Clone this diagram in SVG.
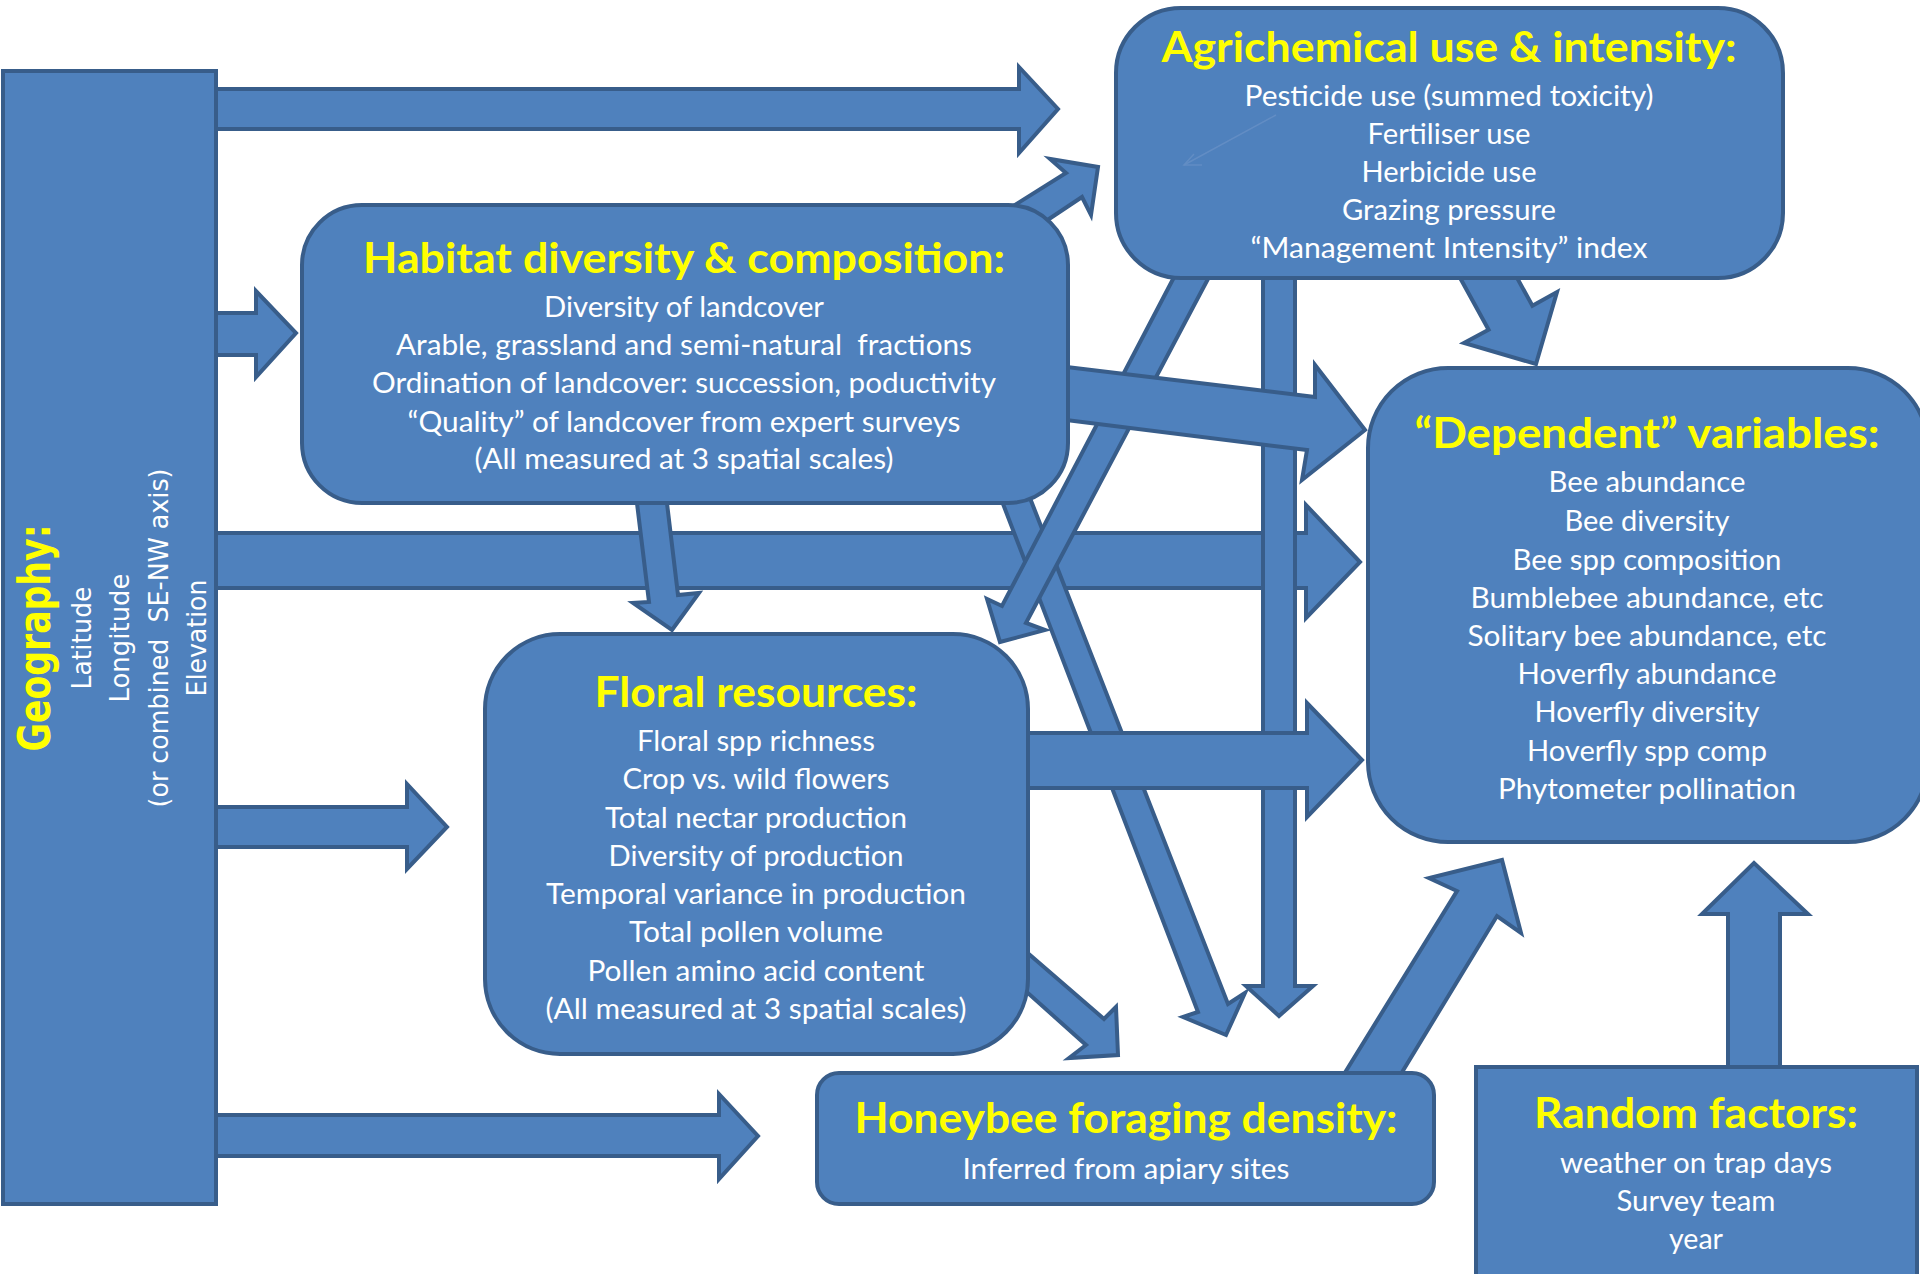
<svg xmlns="http://www.w3.org/2000/svg" width="1920" height="1274" viewBox="0 0 1920 1274">
  <style>
    .arr { fill: #4F81BD; stroke: #385D8A; stroke-width: 4; stroke-linejoin: miter; }
    .box { fill: #4F81BD; stroke: #385D8A; stroke-width: 4; }
    .ttl { font-family: Lato, "Open Sans", "Liberation Sans", sans-serif; font-weight: bold; font-size: 42px; fill: #FFFF00; text-anchor: middle; }
    .txt { font-family: Lato, "Open Sans", "Liberation Sans", sans-serif; font-size: 29px; fill: #FFFFFF; text-anchor: middle; }
    .gttl { font-family: "DejaVu Sans", Verdana, sans-serif; font-weight: bold; font-size: 44px; fill: #FFFF00; text-anchor: middle; }
    .gtxt { font-family: "DejaVu Sans", Verdana, sans-serif; font-size: 26px; fill: #FFFFFF; text-anchor: middle; }
  </style>
  <rect width="1920" height="1274" fill="#FFFFFF"/>

  <!-- block arrows, back to front -->
  <g id="connectors">
    <polygon id="geo-to-dependent" class="arr" points="212,533 1306,533 1306,505 1360,562 1306,618 1306,588 212,588"/>
    <polygon id="geo-to-agri" class="arr" points="212,89 1019,89 1019,67 1058,109 1019,153 1019,129 212,129"/>
    <polygon id="geo-to-habitat" class="arr" points="212,313 256,313 256,291 296,333 256,377 256,355 212,355"/>
    <polygon id="geo-to-floral" class="arr" points="212,807 407,807 407,784 447,827 407,869 407,847 212,847"/>
    <polygon id="geo-to-honeybee" class="arr" points="212,1115 719,1115 719,1094 758,1136 719,1179 719,1156 212,1156"/>
    <polygon id="habitat-to-floral" class="arr" points="636,495 649,602 633,603 672,630 699,593 678,595 666,495"/>
    <polygon id="habitat-to-honeybee" class="arr" points="990,470 1198,1012 1183,1017 1226,1035 1245,993 1228,1004 1019,470"/>
    <polygon id="agri-to-floral" class="arr" points="1183,260 1002,606 987,599 1000,642 1045,630 1026,623 1218,260"/>
    <polygon id="agri-to-honeybee" class="arr" points="1263,270 1263,986 1246,986 1279,1016 1313,986 1295,986 1295,270"/>
    <polygon id="habitat-to-dependent" class="arr" points="1050,365 1315,397 1315,365 1365,430 1302,480 1307,450 1050,418"/>
    <polygon id="floral-to-dependent" class="arr" points="1020,733 1307,733 1307,703 1362,760 1307,817 1307,788 1020,788"/>
    <polygon id="habitat-to-agri" class="arr" points="994,218 1066,173 1050,159 1098,167 1091,215 1082,197 1022,237"/>
    <polygon id="agri-to-dependent" class="arr" points="1453,265 1488.6,329.7 1464,343 1536,364 1557,292 1532.4,305.7 1510,265"/>
    <polygon id="floral-to-honeybee" class="arr" points="1000,929 1104,1019 1116,1007 1118,1055 1069,1058 1086,1045 1000,968"/>
    <polygon id="honeybee-to-dependent" class="arr" points="1333,1092 1457,891 1429,878 1502,860 1521,933 1497,916 1390,1092"/>
    <polygon id="random-to-dependent" class="arr" points="1728,1080 1728,914 1702,914 1754,863 1808,914 1780,914 1780,1080"/>
  </g>

  <g id="geography">
    <rect class="box" x="3" y="71" width="213" height="1133"/>
    <text class="gttl" transform="translate(50,638) rotate(-90)" textLength="227" lengthAdjust="spacingAndGlyphs">Geography:</text>
    <text class="gtxt" transform="translate(91,638) rotate(-90)" textLength="103" lengthAdjust="spacingAndGlyphs">Latitude</text>
    <text class="gtxt" transform="translate(129,638) rotate(-90)" textLength="129" lengthAdjust="spacingAndGlyphs">Longitude</text>
    <text class="gtxt" transform="translate(168,638) rotate(-90)" textLength="339" lengthAdjust="spacingAndGlyphs" xml:space="preserve">(or combined  SE-NW axis)</text>
    <text class="gtxt" transform="translate(206,638) rotate(-90)" textLength="117" lengthAdjust="spacingAndGlyphs">Elevation</text>
  </g>

  <g id="agrichemical">
    <rect class="box" x="1116" y="8" width="667" height="270" rx="65" ry="65"/>
    <!-- faint stray pointer inside the box -->
    <g fill="none" stroke="#6790C6" stroke-width="1.5" opacity="0.8">
      <line x1="1276" y1="115" x2="1184" y2="165"/>
      <polyline points="1202,165 1184,165 1194,154"/>
    </g>
    <text class="ttl" x="1449" y="62" textLength="575" lengthAdjust="spacingAndGlyphs">Agrichemical use &amp; intensity:</text>
    <text class="txt" x="1449" y="106" textLength="409" lengthAdjust="spacingAndGlyphs">Pesticide use (summed toxicity)</text>
    <text class="txt" x="1449" y="144" textLength="163" lengthAdjust="spacingAndGlyphs">Fertiliser use</text>
    <text class="txt" x="1449" y="182" textLength="175" lengthAdjust="spacingAndGlyphs">Herbicide use</text>
    <text class="txt" x="1449" y="220" textLength="214" lengthAdjust="spacingAndGlyphs">Grazing pressure</text>
    <text class="txt" x="1449" y="258" textLength="397" lengthAdjust="spacingAndGlyphs">“Management Intensity” index</text>
  </g>

  <g id="habitat">
    <rect class="box" x="302" y="205" width="766" height="298" rx="60" ry="60"/>
    <text class="ttl" x="684" y="273" textLength="642" lengthAdjust="spacingAndGlyphs">Habitat diversity &amp; composition:</text>
    <text class="txt" x="684" y="317" textLength="280" lengthAdjust="spacingAndGlyphs">Diversity of landcover</text>
    <text class="txt" x="684" y="355" textLength="576" lengthAdjust="spacingAndGlyphs" xml:space="preserve">Arable, grassland and semi-natural  fractions</text>
    <text class="txt" x="684" y="393" textLength="624" lengthAdjust="spacingAndGlyphs">Ordination of landcover: succession, poductivity</text>
    <text class="txt" x="684" y="432" textLength="553" lengthAdjust="spacingAndGlyphs">“Quality” of landcover from expert surveys</text>
    <text class="txt" x="684" y="469" textLength="419" lengthAdjust="spacingAndGlyphs">(All measured at 3 spatial scales)</text>
  </g>

  <g id="floral">
    <rect class="box" x="485" y="634" width="543" height="420" rx="75" ry="75"/>
    <text class="ttl" x="756" y="707" textLength="323" lengthAdjust="spacingAndGlyphs">Floral resources:</text>
    <text class="txt" x="756" y="751" textLength="238" lengthAdjust="spacingAndGlyphs">Floral spp richness</text>
    <text class="txt" x="756" y="789" textLength="267" lengthAdjust="spacingAndGlyphs">Crop vs. wild flowers</text>
    <text class="txt" x="756" y="828" textLength="302" lengthAdjust="spacingAndGlyphs">Total nectar production</text>
    <text class="txt" x="756" y="866" textLength="295" lengthAdjust="spacingAndGlyphs">Diversity of production</text>
    <text class="txt" x="756" y="904" textLength="420" lengthAdjust="spacingAndGlyphs">Temporal variance in production</text>
    <text class="txt" x="756" y="942" textLength="254" lengthAdjust="spacingAndGlyphs">Total pollen volume</text>
    <text class="txt" x="756" y="981" textLength="337" lengthAdjust="spacingAndGlyphs">Pollen amino acid content</text>
    <text class="txt" x="756" y="1019" textLength="421" lengthAdjust="spacingAndGlyphs">(All measured at 3 spatial scales)</text>
  </g>

  <g id="dependent">
    <rect class="box" x="1368" y="368" width="560" height="474" rx="80" ry="80"/>
    <text class="ttl" x="1647" y="448" textLength="465" lengthAdjust="spacingAndGlyphs">“Dependent” variables:</text>
    <text class="txt" x="1647" y="492" textLength="197" lengthAdjust="spacingAndGlyphs">Bee abundance</text>
    <text class="txt" x="1647" y="531" textLength="165" lengthAdjust="spacingAndGlyphs">Bee diversity</text>
    <text class="txt" x="1647" y="570" textLength="269" lengthAdjust="spacingAndGlyphs">Bee spp composition</text>
    <text class="txt" x="1647" y="608" textLength="353" lengthAdjust="spacingAndGlyphs">Bumblebee abundance, etc</text>
    <text class="txt" x="1647" y="646" textLength="359" lengthAdjust="spacingAndGlyphs">Solitary bee abundance, etc</text>
    <text class="txt" x="1647" y="684" textLength="259" lengthAdjust="spacingAndGlyphs">Hoverfly abundance</text>
    <text class="txt" x="1647" y="722" textLength="225" lengthAdjust="spacingAndGlyphs">Hoverfly diversity</text>
    <text class="txt" x="1647" y="761" textLength="240" lengthAdjust="spacingAndGlyphs">Hoverfly spp comp</text>
    <text class="txt" x="1647" y="799" textLength="298" lengthAdjust="spacingAndGlyphs">Phytometer pollination</text>
  </g>

  <g id="honeybee">
    <rect class="box" x="817" y="1073" width="617" height="131" rx="22" ry="22"/>
    <text class="ttl" x="1126" y="1133" textLength="543" lengthAdjust="spacingAndGlyphs">Honeybee foraging density:</text>
    <text class="txt" x="1126" y="1179" textLength="327" lengthAdjust="spacingAndGlyphs">Inferred from apiary sites</text>
  </g>

  <g id="random">
    <rect class="box" x="1476" y="1067" width="441" height="215"/>
    <text class="ttl" x="1696" y="1128" textLength="324" lengthAdjust="spacingAndGlyphs">Random factors:</text>
    <text class="txt" x="1696" y="1173" textLength="272" lengthAdjust="spacingAndGlyphs">weather on trap days</text>
    <text class="txt" x="1696" y="1211" textLength="159" lengthAdjust="spacingAndGlyphs">Survey team</text>
    <text class="txt" x="1696" y="1249" textLength="54" lengthAdjust="spacingAndGlyphs">year</text>
  </g>
</svg>
